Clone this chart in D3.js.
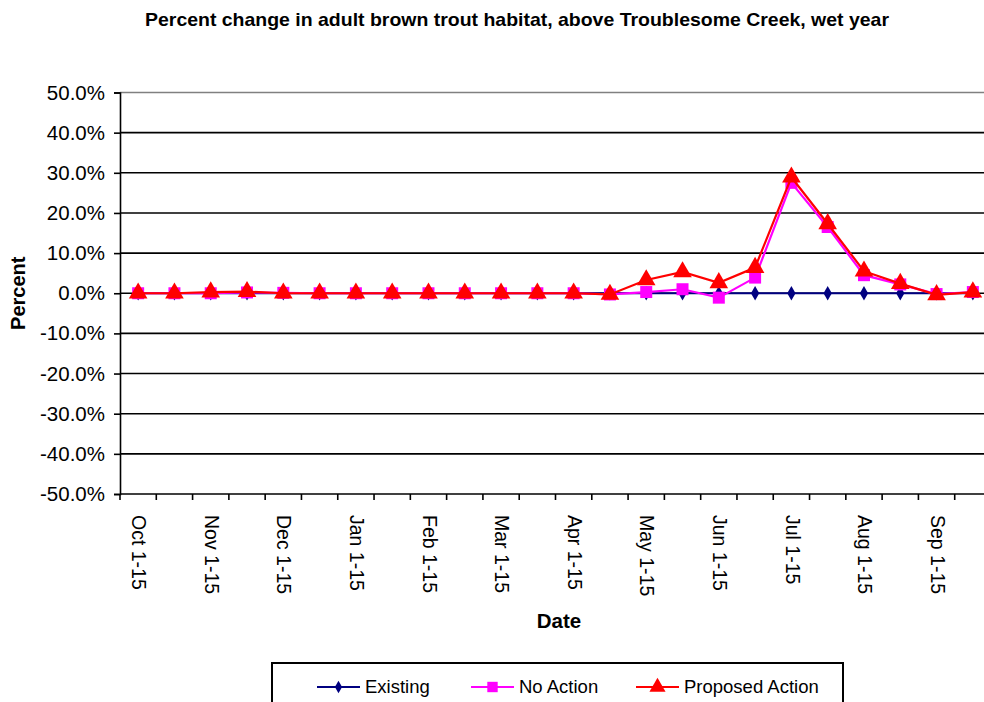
<!DOCTYPE html>
<html>
<head>
<meta charset="utf-8">
<script src="https://cdn.jsdelivr.net/npm/d3@7"></script>
<style>
  html, body { margin: 0; padding: 0; background: #fff; overflow: hidden; }
  svg { display: block; font-family: "Liberation Sans", Arial, sans-serif; }
</style>
</head>
<body>
<svg id="chart" width="984" height="702"></svg>
<script>
const categories = ["Oct 1-15","Oct 16-31","Nov 1-15","Nov 16-30","Dec 1-15","Dec 16-31",
  "Jan 1-15","Jan 16-31","Feb 1-15","Feb 16-28","Mar 1-15","Mar 16-31",
  "Apr 1-15","Apr 16-30","May 1-15","May 16-31","Jun 1-15","Jun 16-30",
  "Jul 1-15","Jul 16-31","Aug 1-15","Aug 16-31","Sep 1-15","Sep 16-30"];
const tickLabels = ["Oct 1-15","Nov 1-15","Dec 1-15","Jan 1-15","Feb 1-15","Mar 1-15",
  "Apr 1-15","May 1-15","Jun 1-15","Jul 1-15","Aug 1-15","Sep 1-15"];
const existing = [0,0,0,0,0,0,0,0,0,0,0,0,0,0,0,0,0,0,0,0,0,0,0,0];
const noAction = [0,0,0,0.2,0.1,0,0,0,0,0,0,0,0,-0.3,0.3,1.0,-1.1,3.9,27.5,16.5,4.5,2.2,-0.2,0.3];
const proposed = [0,0,0.3,0.4,0,0,0,0,0,0,0,0,0,-0.3,3.3,5.3,2.6,6.4,28.9,17.3,5.5,2.4,-0.4,0.3];
const yTicks = [50,40,30,20,10,0,-10,-20,-30,-40,-50];
const seriesNames = ["Existing","No Action","Proposed Action"];
const seriesColors = ["#000080","#FF00FF","#FF0000"];

const svg = d3.select("#chart");
const pLeft = 120, pRight = 991, pTop = 92.5, pBottom = 494;

const x = d3.scaleBand().domain(categories).range([pLeft, pRight]).paddingInner(0).paddingOuter(0);
const y = d3.scaleLinear().domain([-50, 50]).range([pBottom, pTop]);

// Title
svg.append("text")
  .attr("x", 517).attr("y", 26)
  .attr("text-anchor", "middle")
  .attr("font-family", "'Liberation Sans Narrow', 'Liberation Sans', Arial, sans-serif")
  .attr("font-weight", "bold").attr("font-size", 18.5)
  .attr("textLength", 744).attr("lengthAdjust", "spacingAndGlyphs")
  .text("Percent change in adult brown trout habitat, above Troublesome Creek, wet year");

// Gridlines
svg.append("g").selectAll("line").data(yTicks.filter(d => d !== 50 && d !== -50)).join("line")
  .attr("x1", pLeft).attr("x2", pRight)
  .attr("y1", d => y(d)).attr("y2", d => y(d))
  .attr("stroke", "#000").attr("stroke-width", 1.6);
svg.append("line").attr("x1", pLeft).attr("x2", pRight).attr("y1", y(50)).attr("y2", y(50))
  .attr("stroke", "#808080").attr("stroke-width", 1.6);

// Y axis
const fmt = d3.formatLocale({decimal: ".", thousands: ",", grouping: [3], currency: ["", ""], minus: "-"}).format(".1f");
const yAxis = d3.axisLeft(y).tickValues(yTicks).tickSize(6).tickPadding(9)
  .tickFormat(d => fmt(d) + "%");
const gy = svg.append("g").attr("transform", `translate(${pLeft},0)`).call(yAxis);
gy.select(".domain").attr("stroke", "#000").attr("stroke-width", 1.6);
gy.selectAll(".tick line").attr("stroke", "#000").attr("stroke-width", 1.6);
gy.selectAll(".tick text").attr("font-size", 20.5).attr("fill", "#000")
  .attr("font-family", "'Liberation Sans', Arial, sans-serif");

// X axis with ticks between categories
const gx = svg.append("g").attr("transform", `translate(0,${pBottom})`);
gx.append("line").attr("x1", pLeft).attr("x2", pRight).attr("y1", 0).attr("y2", 0)
  .attr("stroke", "#000").attr("stroke-width", 1.6);
gx.selectAll("line.tk").data(categories).join("line").attr("class", "tk")
  .attr("x1", d => x(d)).attr("x2", d => x(d)).attr("y1", 0).attr("y2", 6)
  .attr("stroke", "#000").attr("stroke-width", 1.6);
gx.selectAll("text").data(tickLabels).join("text")
  .attr("transform", d => `translate(${x(d) + x.bandwidth()/2 + 1},21) rotate(90)`)
  .attr("dy", "0.35em")
  .attr("font-size", 19.5).attr("fill", "#000")
  .text(d => d);

// Axis titles
svg.append("text").attr("transform", `translate(25,${y(0)}) rotate(-90)`)
  .attr("text-anchor", "middle").attr("font-weight", "bold").attr("font-size", 20)
  .text("Percent");
svg.append("text").attr("x", 559).attr("y", 628)
  .attr("text-anchor", "middle").attr("font-weight", "bold").attr("font-size", 20.5)
  .text("Date");

// Series
const allSeries = [existing, noAction, proposed];
const line = d3.line().x((d, i) => x(categories[i]) + x.bandwidth()/2).y(d => y(d));
const symbols = [d3.symbolDiamond, d3.symbolSquare, d3.symbolTriangle];
const symSizes = [60, 144, 150];

allSeries.forEach((data, s) => {
  const g = svg.append("g");
  g.append("path").datum(data).attr("d", line)
    .attr("fill", "none").attr("stroke", seriesColors[s]).attr("stroke-width", 2.2);
  g.selectAll("path.m").data(data).join("path").attr("class", "m")
    .attr("transform", (d, i) => `translate(${x(categories[i]) + x.bandwidth()/2},${y(d)})`)
    .attr("d", d3.symbol().type(symbols[s]).size(symSizes[s]))
    .attr("fill", seriesColors[s]);
});

// Legend
svg.append("rect").attr("x", 272).attr("y", 663).attr("width", 571).attr("height", 60)
  .attr("fill", "#fff").attr("stroke", "#000").attr("stroke-width", 2);
const legendX = [317, 471, 636];
seriesNames.forEach((name, s) => {
  const g = svg.append("g").attr("transform", `translate(${legendX[s]},687)`);
  g.append("line").attr("x1", 0).attr("x2", 43).attr("y1", 0).attr("y2", 0)
    .attr("stroke", seriesColors[s]).attr("stroke-width", 2);
  g.append("path").attr("transform", "translate(21.5,0)")
    .attr("d", d3.symbol().type(symbols[s]).size(symSizes[s] * 0.75))
    .attr("fill", seriesColors[s]);
  g.append("text").attr("x", 48).attr("y", 0).attr("dy", "0.35em")
    .attr("font-size", 18.5).attr("fill", "#000").text(name);
});
</script>
</body>
</html>
